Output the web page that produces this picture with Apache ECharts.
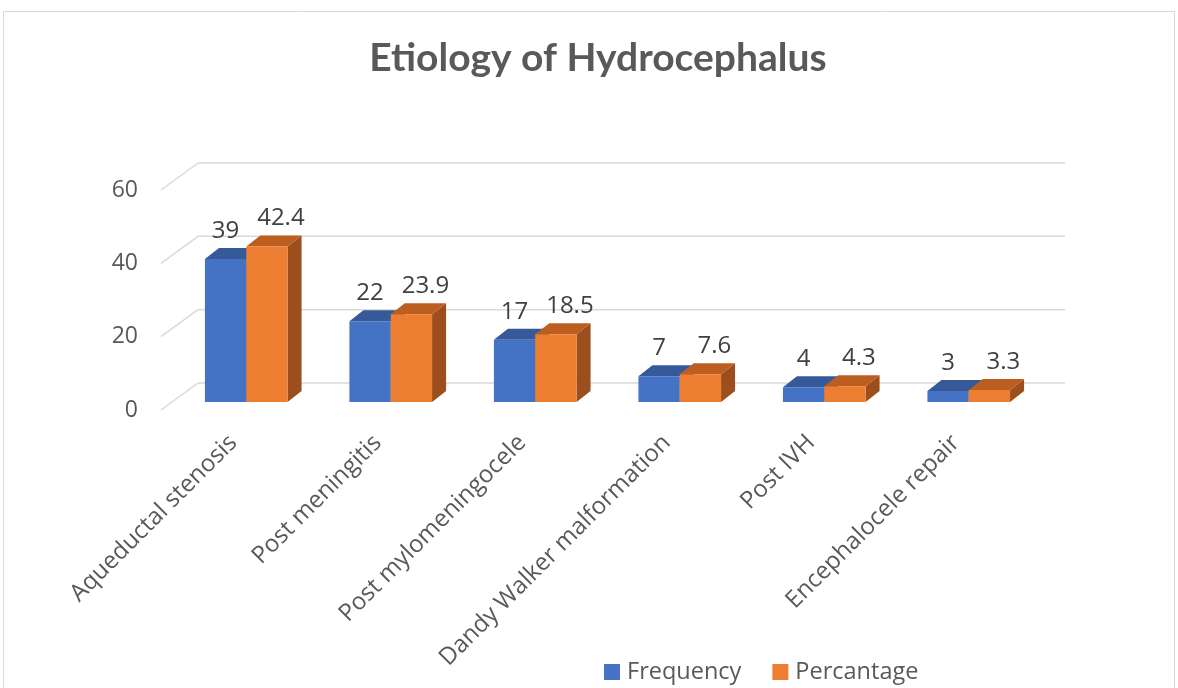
<!DOCTYPE html>
<html>
<head>
<meta charset="utf-8">
<script src="https://cdn.jsdelivr.net/npm/echarts@6/dist/echarts.min.js"></script>
<style>
html,body{margin:0;padding:0;background:#fff;}
#main{width:1178px;height:688px;}
</style>
</head>
<body>
<div id="main"></div>
<script>
const categories = ['Aqueductal stenosis','Post meningitis','Post mylomeningocele','Dandy Walker malformation','Post IVH','Encephalocele repair'];
const frequency = [39, 22, 17, 7, 4, 3];
const percentage = [42.4, 23.9, 18.5, 7.6, 4.3, 3.3];
const yTicks = [0, 20, 40, 60];
const seriesNames = ['Frequency', 'Percantage'];

const FONT = '"Open Sans", Lato, sans-serif';
const TITLE_FONT = 'Lato, "Open Sans", sans-serif';
const WALL_DX = 37, WALL_DY = -27;     // front plane -> back wall
const FRONT_DX = 13, FRONT_DY = -8;    // front plane -> bar front face
const DEPTH_DX = 14, DEPTH_DY = -11;   // bar depth
const BAR_FRAC = 0.286;

const palette = [
  {front:'#4472C4', top:'#36599A', side:'#2F4E87'},
  {front:'#ED7D31', top:'#BC5E1F', side:'#9C4E1C'}
];

function barRender(sIdx){
  return function(params, api){
    const ci = api.value(0), v = api.value(1);
    const base = api.coord([ci, 0]);
    const top = api.coord([ci, v]);
    const band = api.size([1, 0])[0];
    const w = band * BAR_FRAC;
    const x0 = base[0] - w + sIdx * w + FRONT_DX;
    const yb = base[1] + FRONT_DY;
    const yt = top[1] + FRONT_DY;
    const c = palette[sIdx];
    return {
      type: 'group',
      children: [
        {type:'polygon', shape:{points:[[x0+w,yt],[x0+w+DEPTH_DX,yt+DEPTH_DY],[x0+w+DEPTH_DX,yb+DEPTH_DY],[x0+w,yb]]}, style:{fill:c.side}},
        {type:'polygon', shape:{points:[[x0,yt],[x0+w,yt],[x0+w+DEPTH_DX,yt+DEPTH_DY],[x0+DEPTH_DX,yt+DEPTH_DY]]}, style:{fill:c.top}},
        {type:'rect', shape:{x:x0, y:yt, width:w, height:yb-yt}, style:{fill:c.front}},
        {type:'text', x: x0 + w/2 + (sIdx === 1 ? DEPTH_DX : 0), y: yt - 28,
          style:{text:String(v), fill:'#404040', font:'24px ' + FONT, align:'center', verticalAlign:'middle'}}
      ]
    };
  };
}

function wallRender(params, api){
  const v = api.value(1);
  const cs = params.coordSys;
  const y = api.coord([0, v])[1];
  const left = cs.x, right = cs.x + cs.width;
  const st = {stroke:'#D9D9D9', lineWidth:1.5};
  return {
    type:'group',
    children:[
      {type:'line', shape:{x1:left, y1:y, x2:left+WALL_DX, y2:y+WALL_DY}, style:st},
      {type:'line', shape:{x1:left+WALL_DX, y1:y+WALL_DY, x2:right+WALL_DX, y2:y+WALL_DY}, style:st}
    ]
  };
}

const chart = echarts.init(document.getElementById('main'));
chart.setOption({
  backgroundColor:'#fff',
  animation:false,
  title:{
    text:'Etiology of Hydrocephalus',
    left:593, top:34, textAlign:'center',
    textStyle:{fontFamily:TITLE_FONT, fontWeight:'bold', fontSize:39, color:'#595959'}
  },
  graphic:[{type:'rect', shape:{x:3.5, y:11.5, width:1171, height:700}, style:{fill:'none', stroke:'#D9D9D9', lineWidth:1}, z:-10}],
  legend:{
    data:seriesNames, left:604, top:660, padding:0, itemWidth:16, itemHeight:16, itemGap:31,
    icon:'rect',
    textStyle:{fontFamily:FONT, fontSize:23.5, color:'#595959', padding:[0,0,0,2]}
  },
  grid:{left:161, right:150, top:190, bottom:278},
  xAxis:{
    type:'category', data:categories,
    axisLine:{show:false}, axisTick:{show:false}, splitLine:{show:false},
    axisLabel:{rotate:45, margin:29, interval:0, fontFamily:FONT, fontSize:24, color:'#595959'}
  },
  yAxis:{
    type:'value', min:0, max:60, interval:20,
    axisLine:{show:false}, axisTick:{show:false}, splitLine:{show:false},
    axisLabel:{margin:23, fontFamily:FONT, fontSize:23, color:'#595959'}
  },
  series:[
    {type:'custom', name:'wall', renderItem:wallRender, data:yTicks.map(t => [0, t]), silent:true, z:1},
    {type:'custom', name:seriesNames[0], renderItem:barRender(0), data:frequency.map((v,i) => [i, v]), itemStyle:{color:palette[0].front}, z:2},
    {type:'custom', name:seriesNames[1], renderItem:barRender(1), data:percentage.map((v,i) => [i, v]), itemStyle:{color:palette[1].front}, z:3}
  ]
});
</script>
</body>
</html>
